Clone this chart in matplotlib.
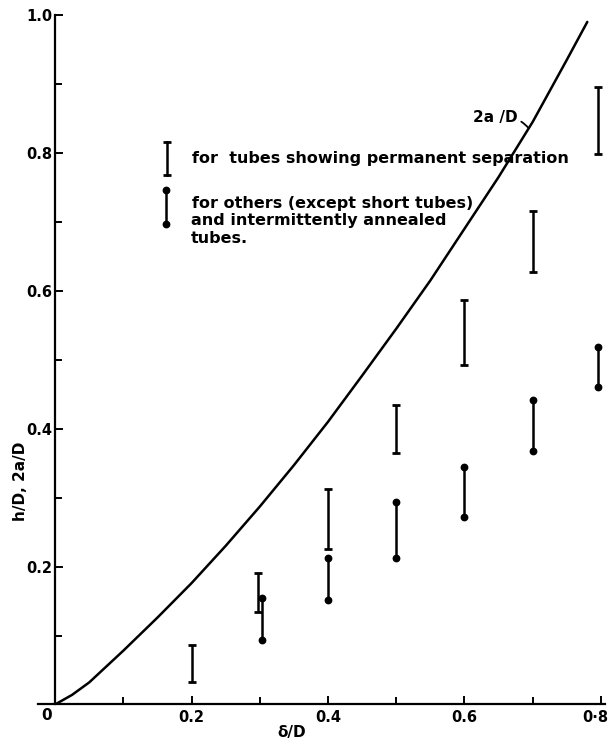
import matplotlib.pyplot as plt
from matplotlib.ticker import MultipleLocator, FixedLocator

# curve 2a/D against delta/D
curve_x = [0, 0.025, 0.05, 0.1, 0.15, 0.2, 0.25, 0.3, 0.35, 0.4, 0.45, 0.5, 0.55, 0.6, 0.65, 0.7, 0.75, 0.78]
curve_y = [0, 0.014, 0.032, 0.078, 0.126, 0.176, 0.23, 0.287, 0.347, 0.41, 0.477, 0.545, 0.615, 0.69, 0.765, 0.845, 0.935, 0.99]

# tubes showing permanent separation (I bars)
sep_x = [0.2, 0.298, 0.4, 0.5, 0.6, 0.7, 0.795]
sep_lo = [0.032, 0.134, 0.225, 0.365, 0.493, 0.627, 0.798]
sep_hi = [0.086, 0.191, 0.313, 0.435, 0.587, 0.716, 0.896]

# others and intermittently annealed tubes (dot bars)
oth_x = [0.303, 0.4, 0.5, 0.6, 0.7, 0.795]
oth_lo = [0.094, 0.152, 0.213, 0.272, 0.368, 0.461]
oth_hi = [0.155, 0.213, 0.294, 0.344, 0.441, 0.519]

x_ticks = [0.2, 0.4, 0.6, 0.8]
x_labels = ["0.2", "0.4", "0.6", "0·8"]
y_ticks = [0.2, 0.4, 0.6, 0.8, 1.0]
y_labels = ["0.2", "0.4", "0.6", "0.8", "1.0"]

plt.rcParams['font.family'] = ['DejaVu Sans']
plt.rcParams['font.weight'] = 'bold'

fig = plt.figure(figsize=(6.13, 7.47), dpi=100)
ax = fig.add_axes([0.062, 0.0569, 0.925, 0.923])
ax.set_xlim(-0.025, 0.806)
ax.set_ylim(0, 1.0)

for s in ['top', 'right']:
    ax.spines[s].set_visible(False)
ax.spines['left'].set_position(('data', 0))
ax.spines['left'].set_linewidth(1.6)
ax.spines['bottom'].set_linewidth(1.6)

# the last x label would run off the page, so it is drawn separately below
ax.xaxis.set_major_locator(FixedLocator(x_ticks))
ax.set_xticklabels(x_labels[:-1] + [""])
ax.xaxis.set_minor_locator(FixedLocator([0.1, 0.3, 0.5, 0.7]))
ax.yaxis.set_major_locator(FixedLocator(y_ticks))
ax.set_yticklabels(y_labels)
ax.yaxis.set_minor_locator(MultipleLocator(0.1))
ax.tick_params(which='both', direction='in', width=1.4, labelsize=10.5)
ax.tick_params(which='major', length=6, pad=4)
ax.tick_params(which='minor', length=5)
ax.tick_params(axis='y', pad=2)
ax.annotate(x_labels[-1], xy=(x_ticks[-1], 0), xycoords=('data', 'axes fraction'),
            xytext=(-4, -4), textcoords='offset points',
            ha='center', va='top', fontsize=10.5, fontweight='bold')

# curve
ax.plot(curve_x, curve_y, color='black', lw=1.8, solid_capstyle='round')

# I bars
ax.vlines(sep_x, sep_lo, sep_hi, color='black', lw=1.8)
ax.plot(sep_x, sep_lo, ls='none', marker='_', ms=6, mew=2, color='black')
ax.plot(sep_x, sep_hi, ls='none', marker='_', ms=6, mew=2, color='black')

# dot bars
ax.vlines(oth_x, oth_lo, oth_hi, color='black', lw=1.8)
ax.plot(oth_x, oth_lo, ls='none', marker='o', ms=4.6, color='black')
ax.plot(oth_x, oth_hi, ls='none', marker='o', ms=4.6, color='black')

# legend keys, drawn by hand like the original
ax.plot([0.227, 0.227], [0.768, 0.816], transform=ax.transAxes, color='black', lw=1.8)
ax.plot([0.227, 0.227], [0.768, 0.816], transform=ax.transAxes, ls='none',
        marker='_', ms=6, mew=2, color='black')
ax.plot([0.225, 0.225], [0.697, 0.746], transform=ax.transAxes, color='black', lw=1.8)
ax.plot([0.225, 0.225], [0.697, 0.746], transform=ax.transAxes, ls='none',
        marker='o', ms=4.6, color='black')

kw = dict(transform=ax.transAxes, fontsize=11.5, fontweight='bold', va='center', ha='left')
ax.text(0.272, 0.7926, "for  tubes showing permanent separation", **kw)
ax.text(0.272, 0.7265, "for others (except short tubes)", **kw)
ax.text(0.269, 0.7015, "and intermittently annealed", **kw)
ax.text(0.269, 0.6765, "tubes.", **kw)

# 2a/D label with leader
ax.annotate("2a /D", xy=(0.694, 0.836), xycoords='data',
            xytext=(0.806, 0.851), textcoords='axes fraction',
            fontsize=11, fontweight='bold', ha='center', va='center',
            arrowprops=dict(arrowstyle='-', color='black', lw=1.3,
                            shrinkA=1, shrinkB=0,
                            connectionstyle='arc3,rad=-0.3'))

# axis labels
ax.text(-0.012, -0.016, "0", transform=ax.transData, fontsize=11,
        fontweight='bold', ha='center', va='center')
ax.text(0.448, -0.04, "δ/D", transform=ax.transAxes, fontsize=11,
        fontweight='bold', ha='center', va='center')
ax.text(-0.03, 0.323, "h/D, 2a/D", transform=ax.transAxes, fontsize=11,
        fontweight='bold', ha='center', va='center', rotation=90)

fig.savefig("out.png", dpi=100, facecolor='white')
